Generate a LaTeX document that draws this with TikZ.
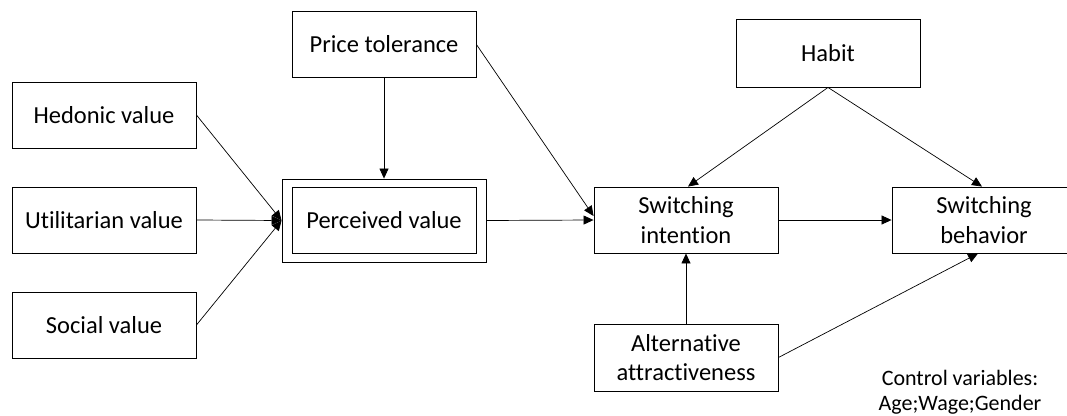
\documentclass[tikz,border=0pt]{standalone}
\usepackage{fontspec}
\setmainfont{Carlito}[Ligatures={NoCommon}]
\usetikzlibrary{arrows.meta}
\begin{document}
\begin{tikzpicture}[x=1pt,y=-1pt,
  box/.style={draw,line width=0.9pt,minimum width=184pt,minimum height=66pt,inner sep=0pt,align=center,font=\fontsize{24.5}{29.5}\selectfont},
  conn/.style={line width=0.7pt,-{Triangle[length=10pt,width=9pt]}}]
\useasboundingbox (0,0) rectangle (1067,415);
\node[box] (hed) at (104,115) {Hedonic value};
\node[box] (uti) at (104,220) {Utilitarian value};
\node[box] (soc) at (104,325) {Social value};
\node[box] (pt) at (384,44.5) {Price tolerance};
\node[box] (pvin) at (384,220) {Perceived value};
\node[draw,line width=0.9pt,minimum width=204pt,minimum height=83pt,inner sep=0pt] (pv) at (384,220.5) {};
\node[box,minimum height=68pt] (hab) at (828,53) {Habit};
\node[box] (si) at (686,220) {Switching\\intention};
\node[box] (sb) at (984,220) {Switching\\behavior};
\node[box,minimum height=67pt] (alt) at (686,357.5) {Alternative\\attractiveness};
\node[align=center,font=\fontsize{22}{25}\selectfont,inner sep=0pt,anchor=north] (ctl) at (960,370) {Control variables:\\Age;Wage;Gender};
\draw[conn] (hed.east) -- (pv.west);
\draw[conn] (uti.east) -- (pv.west);
\draw[conn] (soc.east) -- (pv.west);
\draw[conn] (pt.south) -- (pv.north);
\draw[conn] (pt.east) -- ([yshift=4pt]si.west);
\draw[conn] (pv.east) -- (si.west);
\draw[conn] (hab.south) -- ([xshift=2pt]si.north);
\draw[conn] (hab.south) -- ([xshift=-2pt]sb.north);
\draw[conn] (si.east) -- (sb.west);
\draw[conn] (alt.north) -- (si.south);
\draw[conn] (alt.east) -- ([xshift=-6pt]sb.south);
\end{tikzpicture}
\end{document}
